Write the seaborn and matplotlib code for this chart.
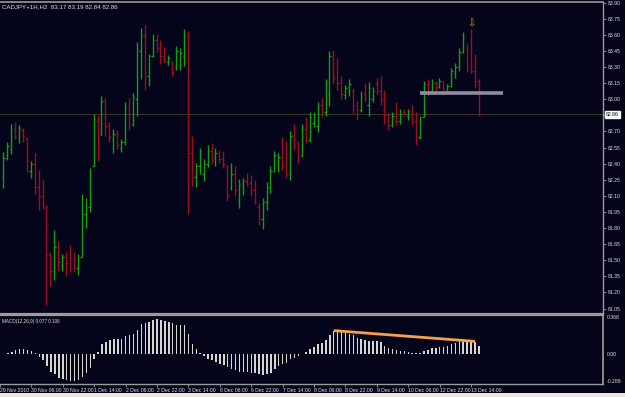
import numpy as np
import matplotlib
matplotlib.use("Agg")
import matplotlib.pyplot as plt
import matplotlib.transforms as mtrans
from matplotlib import font_manager
import seaborn as sns

# ==============================
# DATA (CADJPY H2, bar index 0 = 29 Nov 14:00)
# ==============================

bar_idx = list(range(1, 123))

opens = [82.28, 82.45, 82.54, 82.72, 82.64, 82.71, 82.64, 82.33, 82.40, 82.18,
         82.10, 82.00, 81.55, 81.40, 81.62, 81.45, 81.53, 81.52, 81.50, 81.43,
         81.53, 81.93, 82.00, 82.38, 82.80, 82.67, 82.98, 82.75, 82.62, 82.68,
         82.55, 82.60, 82.93, 82.77, 83.00, 83.45, 83.60, 83.22, 83.40, 83.55,
         83.48, 83.40, 83.35, 83.36, 83.30, 83.32, 83.40, 83.60, 82.50, 82.28,
         82.38, 82.30, 82.40, 82.52, 82.45, 82.50, 82.44, 82.38, 82.18, 82.30,
         82.05, 82.18, 82.24, 82.22, 82.15, 82.00, 81.88, 82.04, 82.18, 82.33,
         82.40, 82.46, 82.45, 82.30, 82.66, 82.58, 82.48, 82.72, 82.62, 82.78,
         82.75, 82.95, 82.88, 83.05, 83.40, 83.30, 83.15, 83.04, 83.08, 83.08,
         82.95, 82.90, 83.05, 82.95, 83.00, 83.15, 83.08, 83.00, 82.85, 82.76,
         82.84, 82.80, 82.88, 82.84, 82.89, 82.80, 82.65, 82.83, 83.14, 83.08,
         83.15, 83.11, 83.16, 83.07, 83.12, 83.24, 83.30, 83.44, 83.48, 83.32,
         83.26, 83.17]

highs = [82.51, 82.60, 82.77, 82.79, 82.76, 82.73, 82.64, 82.42, 82.50, 82.34,
         82.26, 82.01, 81.58, 81.78, 81.68, 81.56, 81.58, 81.64, 81.58, 81.56,
         82.12, 82.08, 82.36, 82.86, 82.85, 83.03, 83.01, 82.79, 82.72, 82.71,
         82.63, 82.97, 83.01, 83.06, 83.53, 83.66, 83.69, 83.42, 83.61, 83.61,
         83.55, 83.49, 83.41, 83.36, 83.50, 83.48, 83.65, 83.64, 82.66, 82.41,
         82.55, 82.44, 82.57, 82.59, 82.55, 82.53, 82.52, 82.39, 82.41, 82.38,
         82.26, 82.27, 82.31, 82.29, 82.25, 82.03, 82.08, 82.23, 82.38, 82.52,
         82.50, 82.65, 82.61, 82.70, 82.77, 82.61, 82.77, 82.83, 82.88, 82.88,
         82.97, 83.01, 83.19, 83.45, 83.46, 83.38, 83.22, 83.13, 83.19, 83.10,
         82.98, 83.08, 83.15, 83.16, 83.11, 83.20, 83.22, 83.09, 82.87, 82.88,
         82.97, 82.91, 82.91, 82.91, 82.95, 82.88, 82.84, 83.17, 83.19, 83.19,
         83.17, 83.20, 83.17, 83.14, 83.29, 83.34, 83.48, 83.63, 83.51, 83.65,
         83.42, 83.19]

lows = [82.17, 82.43, 82.49, 82.63, 82.59, 82.60, 82.32, 82.27, 82.12, 81.97,
        81.98, 81.08, 81.26, 81.32, 81.40, 81.40, 81.35, 81.39, 81.39, 81.36,
        81.53, 81.80, 81.95, 82.38, 82.42, 82.67, 82.66, 82.60, 82.50, 82.54,
        82.51, 82.57, 82.71, 82.75, 82.84, 83.19, 83.09, 83.12, 83.39, 83.44,
        83.33, 83.34, 83.32, 83.22, 83.27, 83.27, 83.31, 81.93, 82.19, 82.18,
        82.30, 82.24, 82.37, 82.40, 82.38, 82.41, 82.36, 82.05, 82.15, 82.10,
        81.99, 82.11, 82.19, 82.10, 82.02, 81.83, 81.79, 81.97, 82.13, 82.32,
        82.32, 82.34, 82.27, 82.25, 82.53, 82.41, 82.46, 82.59, 82.60, 82.74,
        82.69, 82.83, 82.84, 82.94, 83.14, 83.09, 83.00, 83.00, 83.03, 82.87,
        82.81, 82.88, 82.97, 82.84, 82.97, 83.05, 82.95, 82.77, 82.71, 82.74,
        82.76, 82.77, 82.84, 82.81, 82.76, 82.57, 82.63, 82.83, 83.03, 83.06,
        83.08, 83.10, 83.04, 83.06, 83.11, 83.20, 83.26, 83.43, 83.25, 83.24,
        83.10, 82.84]

closes = [82.45, 82.56, 82.72, 82.66, 82.73, 82.66, 82.42, 82.40, 82.18, 82.10,
          82.02, 81.55, 81.40, 81.62, 81.48, 81.53, 81.47, 81.45, 81.46, 81.50,
          82.08, 82.00, 82.30, 82.82, 82.55, 82.98, 82.75, 82.65, 82.68, 82.57,
          82.60, 82.93, 82.77, 83.02, 83.47, 83.60, 83.25, 83.40, 83.55, 83.48,
          83.40, 83.36, 83.38, 83.25, 83.45, 83.43, 83.60, 82.50, 82.35, 82.38,
          82.52, 82.40, 82.52, 82.45, 82.50, 82.44, 82.40, 82.10, 82.30, 82.15,
          82.20, 82.24, 82.21, 82.15, 82.05, 81.90, 82.04, 82.18, 82.33, 82.48,
          82.46, 82.38, 82.30, 82.66, 82.58, 82.45, 82.72, 82.62, 82.83, 82.85,
          82.93, 82.88, 83.15, 83.40, 83.20, 83.15, 83.05, 83.10, 83.14, 82.95,
          82.87, 83.02, 83.00, 83.10, 83.08, 83.08, 83.00, 82.85, 82.76, 82.84,
          82.80, 82.86, 82.86, 82.89, 82.80, 82.65, 82.80, 83.14, 83.08, 83.15,
          83.10, 83.17, 83.08, 83.12, 83.26, 83.30, 83.44, 83.58, 83.30, 83.26,
          83.17, 82.86]

macd_hist = [-0.003, 0.006, 0.019, 0.032, 0.042, 0.048, 0.035, 0.023, 0.003, -0.029,
             -0.064, -0.119, -0.174, -0.200, -0.232, -0.248, -0.258, -0.264, -0.264, -0.258,
             -0.222, -0.190, -0.135, -0.048, 0.016, 0.090, 0.113, 0.132, 0.138, 0.138,
             0.138, 0.171, 0.177, 0.187, 0.229, 0.283, 0.293, 0.306, 0.325, 0.332,
             0.325, 0.316, 0.306, 0.293, 0.280, 0.280, 0.280, 0.193, 0.097, 0.042,
             0.003, -0.023, -0.048, -0.064, -0.081, -0.097, -0.106, -0.129, -0.151, -0.161,
             -0.174, -0.174, -0.174, -0.184, -0.190, -0.200, -0.209, -0.200, -0.184, -0.145,
             -0.119, -0.097, -0.087, -0.055, -0.039, -0.023, -0.006, 0.019, 0.042, 0.064,
             0.090, 0.106, 0.132, 0.177, 0.219, 0.213, 0.209, 0.203, 0.193, 0.177,
             0.155, 0.138, 0.132, 0.122, 0.122, 0.119, 0.113, 0.074, 0.058, 0.048,
             0.035, 0.026, 0.026, 0.019, 0.010, 0.003, 0.003, 0.026, 0.035, 0.052,
             0.058, 0.064, 0.068, 0.074, 0.090, 0.106, 0.122, 0.116, 0.116, 0.113,
             0.113, 0.077]

time_tick_idx = [0, 8, 16, 24, 32, 40, 48, 56, 64, 72, 80, 88, 96, 104, 112, 120]
time_tick_labels = ["29 Nov 2010", "30 Nov 06:00", "30 Nov 22:00", "1 Dec 14:00",
                    "2 Dec 06:00", "2 Dec 22:00", "3 Dec 14:00", "6 Dec 06:00",
                    "6 Dec 22:00", "7 Dec 14:00", "8 Dec 06:00", "8 Dec 22:00",
                    "9 Dec 14:00", "10 Dec 06:00", "12 Dec 22:00", "13 Dec 14:00"]

price_ticks = [81.05, 81.20, 81.35, 81.50, 81.65, 81.80, 81.95, 82.10, 82.25, 82.40,
               82.55, 82.70, 82.85, 83.00, 83.15, 83.30, 83.45, 83.60, 83.75, 83.90]
# 82.85 is hidden behind the current price box
price_tick_labels = ["81.05", "81.20", "81.35", "81.50", "81.65", "81.80", "81.95",
                     "82.10", "82.25", "82.40", "82.55", "82.70", "", "83.00", "83.15",
                     "83.30", "83.45", "83.60", "83.75", "83.90"]

macd_ticks = [-0.289, 0.0, 0.368]
macd_tick_labels = ["-0.289", "0.00", "0.368"]

# drawn objects (in data units)
level_price = 83.055
level_span = (107, 128.2)
trend_start = (85, 0.222)
trend_end = (121, 0.118)
arrow_pos = (120, 83.705)

# ==============================
# STYLE
# ==============================

sns.set_theme(style="dark")

installed = {f.name for f in font_manager.fontManager.ttflist}
if "Liberation Sans Narrow" in installed:
    FONT = ["Liberation Sans Narrow", "DejaVu Sans"]
    FS = 4.3
else:
    FONT = ["Liberation Sans", "DejaVu Sans"]
    FS = 3.7
plt.rcParams["font.family"] = FONT

BG = "#04041a"
GREEN = "#12a012"
RED = "#9c0f22"
FRAME = "#9a9a9a"
TXT = "#e0e0e0"

fig = plt.figure(figsize=(6.25, 3.97), dpi=100, facecolor=BG)

ax = fig.add_axes([0, 0.2091, 0.9648, 0.7859], facecolor=BG)
ax2 = fig.add_axes([0, 0.034, 0.9648, 0.1713], facecolor=BG)

xlim = (0.18, 153.6)

# ==============================
# PRICE PANEL (OHLC bars)
# ==============================

colors = [GREEN if c >= o else RED for o, c in zip(opens, closes)]
k = np.array(bar_idx)

ax.axhline(closes[-1], color="#33331f", lw=0.8, zorder=1)

ax.vlines(k, lows, highs, colors=colors, lw=1.0, zorder=3)
ax.hlines(opens, k - 0.36, k, colors=colors, lw=0.9, zorder=3)
ax.hlines(closes, k, k + 0.36, colors=colors, lw=0.9, zorder=3)

ax.plot(level_span, [level_price, level_price], color="#8e8ca0", lw=2.6,
        solid_capstyle="butt", zorder=4)

ax.text(arrow_pos[0], arrow_pos[1], "\u21e9", color="#c8a418", fontsize=7,
        family="DejaVu Sans", ha="center", va="center", zorder=5)

ax.set_xlim(*xlim)
ax.set_ylim(80.999, 83.906)
ax.set_xticks([])
ax.yaxis.tick_right()
ax.set_yticks(price_ticks, labels=price_tick_labels)
ax.tick_params(axis="y", colors=FRAME, labelcolor=TXT, labelsize=FS,
               length=2.5, width=0.6, pad=1.2, direction="out", right=True)
ax.grid(False)

for name, sp in ax.spines.items():
    sp.set_visible(name in ("right", "bottom", "top"))
    sp.set_color(FRAME)
ax.spines["right"].set_linewidth(1.0)
ax.spines["top"].set_linewidth(1.2)
ax.spines["bottom"].set_linewidth(1.6)

ax.text(0.004, 0.994, "CADJPY+1H,H2  83.17 83.19 82.84 82.86",
        transform=ax.transAxes, ha="left", va="top", fontsize=FS * 1.2, color=TXT)

# current price box on the scale
trans = mtrans.blended_transform_factory(ax.transAxes, ax.transData)
ax.text(1.005, closes[-1], f"{closes[-1]:.2f}", transform=trans, ha="left",
        va="center", fontsize=FS, color="black", zorder=6, clip_on=False,
        bbox=dict(boxstyle="square,pad=0.2", fc="white", ec="white"))

# ==============================
# MACD PANEL
# ==============================

sns.barplot(x=bar_idx, y=macd_hist, native_scale=True, width=0.38,
            color="#d6d6ce", saturation=1, errorbar=None, ax=ax2, zorder=3)
for p in ax2.patches:
    p.set_linewidth(0)

ax2.plot([trend_start[0], trend_end[0]], [trend_start[1], trend_end[1]],
         color="#f4a04e", lw=2.0, solid_capstyle="butt", zorder=4)

ax2.set_xlim(*xlim)
ax2.set_ylim(-0.289, 0.368)
ax2.set_xlabel("")
ax2.set_ylabel("")
ax2.yaxis.tick_right()
ax2.set_yticks(macd_ticks, labels=macd_tick_labels)
ax2.tick_params(axis="y", colors=FRAME, labelcolor=TXT, labelsize=FS,
                length=0, pad=3, right=True)
ylabs = ax2.get_yticklabels()
ylabs[0].set_va("bottom")
ylabs[2].set_va("top")

ax2.set_xticks(time_tick_idx, labels=time_tick_labels, ha="left")
ax2.tick_params(axis="x", colors=FRAME, labelcolor=TXT, labelsize=FS,
                length=2.5, width=0.6, pad=0.8, direction="out", bottom=True)
ax2.grid(False)

for name, sp in ax2.spines.items():
    sp.set_visible(name in ("right", "bottom", "top"))
    sp.set_color(FRAME)
ax2.spines["top"].set_linewidth(1.6)
ax2.spines["bottom"].set_linewidth(1.0)

ax2.text(0.004, 0.95, "MACD(12,26,9) 0.077 0.106", transform=ax2.transAxes,
         ha="left", va="top", fontsize=FS * 0.9, color=TXT)

# MT4 tab strip at the bottom
fig.patches.append(plt.Rectangle((0, 0), 1, 0.011, transform=fig.transFigure,
                                 fc="#ece9d8", ec="none", zorder=0))

fig.savefig("out.png", dpi=100, facecolor=BG)
